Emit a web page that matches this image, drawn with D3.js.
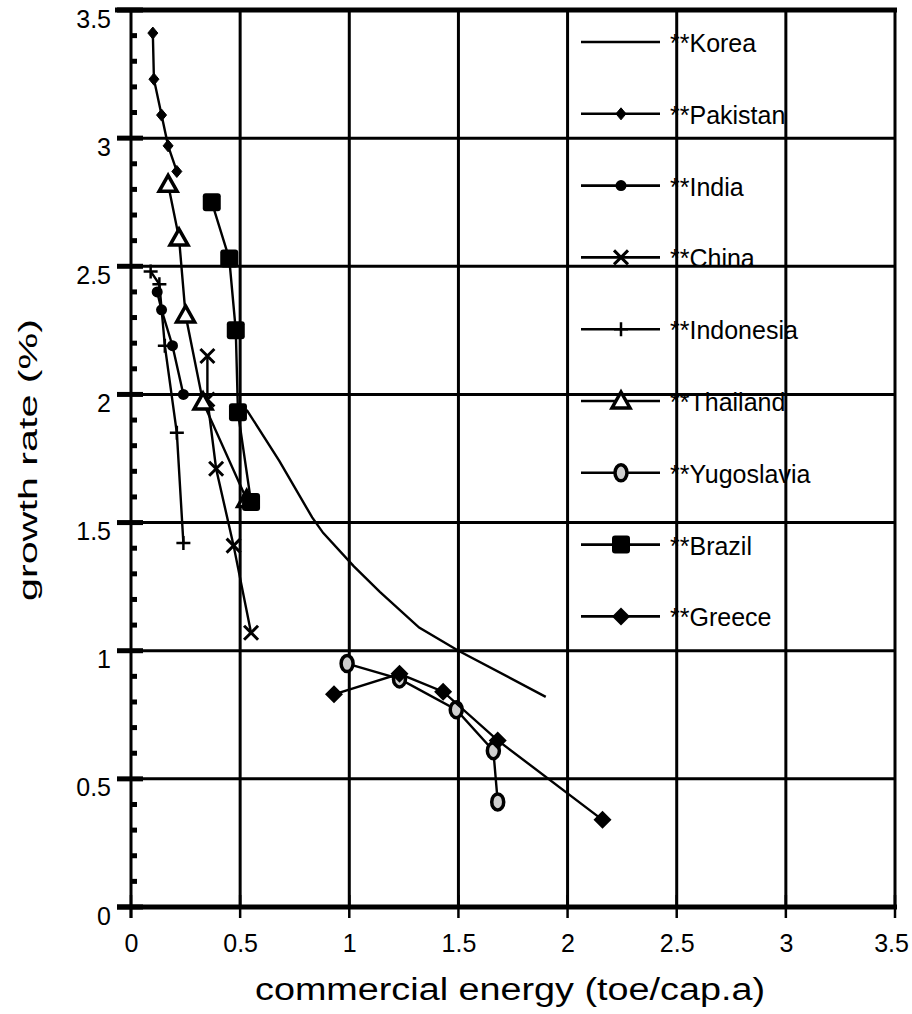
<!DOCTYPE html>
<html>
<head>
<meta charset="utf-8">
<script src="https://cdn.jsdelivr.net/npm/d3@7"></script>
<style>
  body { margin: 0; background: #fff; }
  text { font-family: "Liberation Sans", Arial, sans-serif; fill: #000; }
</style>
</head>
<body>
<script>
// data
var names = ["**Korea", "**Pakistan", "**India", "**China", "**Indonesia",
             "**Thailand", "**Yugoslavia", "**Brazil", "**Greece"];
var markers = ["none", "smalldiamond", "dot", "x", "plus", "triangle", "ring", "square", "diamond"];

var koreaX = [0.53, 0.68, 0.83, 0.88, 1.02, 1.14, 1.32, 1.50, 1.90];
var koreaY = [1.94, 1.74, 1.52, 1.46, 1.33, 1.23, 1.09, 1.00, 0.82];
var pakistanX = [0.10, 0.105, 0.14, 0.17, 0.21];
var pakistanY = [3.41, 3.23, 3.09, 2.97, 2.87];
var indiaX = [0.12, 0.14, 0.19, 0.24];
var indiaY = [2.40, 2.33, 2.19, 2.00];
var chinaX = [0.35, 0.35, 0.39, 0.47, 0.55];
var chinaY = [2.15, 1.98, 1.71, 1.41, 1.07];
var indonesiaX = [0.09, 0.13, 0.155, 0.21, 0.24];
var indonesiaY = [2.48, 2.43, 2.19, 1.85, 1.42];
var thailandX = [0.17, 0.22, 0.25, 0.33, 0.53];
var thailandY = [2.82, 2.61, 2.31, 1.97, 1.59];
var yugoslaviaX = [0.99, 1.23, 1.49, 1.66, 1.68];
var yugoslaviaY = [0.95, 0.89, 0.77, 0.61, 0.41];
var brazilX = [0.37, 0.45, 0.48, 0.49, 0.55];
var brazilY = [2.75, 2.53, 2.25, 1.93, 1.58];
var greeceX = [0.93, 1.23, 1.43, 1.68, 2.16];
var greeceY = [0.83, 0.91, 0.84, 0.65, 0.34];

var xTicks = [0, 0.5, 1, 1.5, 2, 2.5, 3, 3.5];
var yTicks = [0, 0.5, 1, 1.5, 2, 2.5, 3, 3.5];

function init() {
    var W = 912, H = 1014;
    var margin = {top: 10, right: 17, bottom: 107, left: 131};
    var w = W - margin.left - margin.right;
    var h = H - margin.top - margin.bottom;

    var xs = [koreaX, pakistanX, indiaX, chinaX, indonesiaX, thailandX, yugoslaviaX, brazilX, greeceX];
    var ys = [koreaY, pakistanY, indiaY, chinaY, indonesiaY, thailandY, yugoslaviaY, brazilY, greeceY];
    var series = names.map(function(n, i) {
        return {name: n, marker: markers[i],
                points: xs[i].map(function(v, j) { return [v, ys[i][j]]; })};
    });

    var svg = d3.select("body").append("svg")
        .attr("width", W).attr("height", H);
    var g = svg.append("g")
        .attr("transform", "translate(" + margin.left + "," + margin.top + ")");

    var xScale = d3.scaleLinear().domain([0, 3.5]).range([0, w]);
    var yScale = d3.scaleLinear().domain([0, 3.5]).range([h, 0]);

    // grid
    g.selectAll("line.vgrid")
        .data(xTicks.slice(1))
        .enter().append("line")
        .attr("x1", function(d) { return xScale(d); })
        .attr("x2", function(d) { return xScale(d); })
        .attr("y1", 0).attr("y2", h)
        .attr("stroke", "#000").attr("stroke-width", 3);

    g.selectAll("line.hgrid")
        .data(yTicks.slice(1, -1))
        .enter().append("line")
        .attr("x1", 0).attr("x2", w)
        .attr("y1", function(d) { return yScale(d); })
        .attr("y2", function(d) { return yScale(d); })
        .attr("stroke", "#000").attr("stroke-width", 3);

    // top border
    g.append("line")
        .attr("x1", -16).attr("x2", w + 2)
        .attr("y1", 0).attr("y2", 0)
        .attr("stroke", "#000").attr("stroke-width", 5);

    // y axis
    var yAxis = d3.axisLeft(yScale).tickValues(yTicks).tickSize(0).tickPadding(0)
        .tickFormat(d3.format("~g"));
    var ya = g.append("g").call(yAxis);
    ya.select(".domain").remove();
    ya.selectAll("text")
        .attr("x", -20).attr("dy", "0.68em")
        .style("font-size", "25px")
        .style("font-family", "Liberation Sans, Arial, sans-serif");

    g.append("line")
        .attr("x1", 0).attr("x2", 0)
        .attr("y1", 0).attr("y2", h + 11)
        .attr("stroke", "#000").attr("stroke-width", 3);

    g.selectAll("rect.ymajor")
        .data(yTicks)
        .enter().append("rect")
        .attr("x", -14).attr("width", 26)
        .attr("y", function(d) { return yScale(d) - 2.5; })
        .attr("height", 5)
        .attr("fill", "#000");

    var minor = d3.range(1, 35).map(function(i) { return i / 10; })
        .filter(function(d, i) { return (i + 1) % 5 !== 0; });
    g.selectAll("rect.yminor")
        .data(minor)
        .enter().append("rect")
        .attr("x", 1).attr("width", 5)
        .attr("y", function(d) { return yScale(d) - 2.5; })
        .attr("height", 5)
        .attr("fill", "#000");

    // x axis
    var xAxis = d3.axisBottom(xScale).tickValues(xTicks).tickSize(0).tickPadding(0)
        .tickFormat(d3.format("~g"));
    var xa = g.append("g").attr("transform", "translate(0," + h + ")").call(xAxis);
    xa.select(".domain").remove();
    xa.selectAll("text")
        .attr("y", 45).attr("dy", 0)
        .style("font-size", "25px")
        .style("font-family", "Liberation Sans, Arial, sans-serif");
    // keep the last label inside the page
    xa.selectAll("text").filter(function(d) { return d === 3.5; }).attr("dx", -4);

    g.append("line")
        .attr("x1", -14).attr("x2", w + 2)
        .attr("y1", h).attr("y2", h)
        .attr("stroke", "#000").attr("stroke-width", 5);

    g.selectAll("line.xtick")
        .data(xTicks)
        .enter().append("line")
        .attr("x1", function(d) { return xScale(d); })
        .attr("x2", function(d) { return xScale(d); })
        .attr("y1", h - 12).attr("y2", h + 11)
        .attr("stroke", "#000").attr("stroke-width", 2.5);

    // axis titles
    svg.append("text")
        .attr("x", 510).attr("y", 1000)
        .attr("text-anchor", "middle")
        .attr("textLength", 510).attr("lengthAdjust", "spacingAndGlyphs")
        .style("font-size", "31px")
        .text("commercial energy (toe/cap.a)");

    svg.append("text")
        .attr("transform", "translate(37,460) rotate(-90)")
        .attr("text-anchor", "middle")
        .attr("textLength", 282).attr("lengthAdjust", "spacingAndGlyphs")
        .style("font-size", "26px")
        .text("growth rate (%)");

    // marker drawing
    function drawMarker(sel, type) {
        if (type === "smalldiamond") {
            sel.append("path").attr("d", "M0,-6L5,0L0,6L-5,0Z")
                .attr("fill", "#000").attr("stroke", "#000").attr("stroke-width", 1);
        } else if (type === "diamond") {
            sel.append("path").attr("d", "M0,-9L9,0L0,9L-9,0Z").attr("fill", "#000");
        } else if (type === "dot") {
            sel.append("circle").attr("r", 5.5).attr("fill", "#000");
        } else if (type === "x") {
            sel.append("path").attr("d", "M-7,-7L7,7M-7,7L7,-7")
                .attr("stroke", "#000").attr("stroke-width", 3).attr("fill", "none");
        } else if (type === "plus") {
            sel.append("path").attr("d", "M-7,0L7,0M0,-7L0,7")
                .attr("stroke", "#000").attr("stroke-width", 2.5).attr("fill", "none");
        } else if (type === "triangle") {
            sel.append("path").attr("d", "M0,-9L9,7L-9,7Z")
                .attr("fill", "#fff").attr("stroke", "#000").attr("stroke-width", 3.5);
        } else if (type === "ring") {
            sel.append("ellipse").attr("rx", 6).attr("ry", 8)
                .attr("fill", "#cfcfcf").attr("stroke", "#000").attr("stroke-width", 3.5);
        } else if (type === "square") {
            sel.append("rect").attr("x", -9).attr("y", -9)
                .attr("width", 18).attr("height", 18).attr("rx", 3)
                .attr("fill", "#000");
        }
    }

    var line = d3.line()
        .x(function(d) { return xScale(d[0]); })
        .y(function(d) { return yScale(d[1]); });

    var groups = g.selectAll("g.series")
        .data(series)
        .enter().append("g")
        .attr("class", "series");

    groups.append("path")
        .attr("d", function(d) { return line(d.points); })
        .attr("fill", "none")
        .attr("stroke", "#000")
        .attr("stroke-width", 2.4);

    groups.each(function(s) {
        if (s.marker === "none") return;
        d3.select(this).selectAll("g.pt")
            .data(s.points)
            .enter().append("g")
            .attr("transform", function(d) {
                return "translate(" + xScale(d[0]) + "," + yScale(d[1]) + ")";
            })
            .each(function() { drawMarker(d3.select(this), s.marker); });
    });

    // legend
    var legend = svg.selectAll("g.legend")
        .data(series)
        .enter().append("g")
        .attr("class", "legend")
        .attr("transform", function(d, i) {
            return "translate(581," + (42 + i * 71.8) + ")";
        });

    legend.append("line")
        .attr("x1", 0).attr("x2", 79)
        .attr("y1", 0).attr("y2", 0)
        .attr("stroke", "#000").attr("stroke-width", 2.6);

    legend.each(function(s) {
        var m = d3.select(this).append("g").attr("transform", "translate(40,0)");
        drawMarker(m, s.marker);
    });

    legend.append("text")
        .attr("x", 89).attr("y", 10)
        .style("font-size", "25px")
        .text(function(d) { return d.name; });
}

window.onload = init;
</script>
</body>
</html>
